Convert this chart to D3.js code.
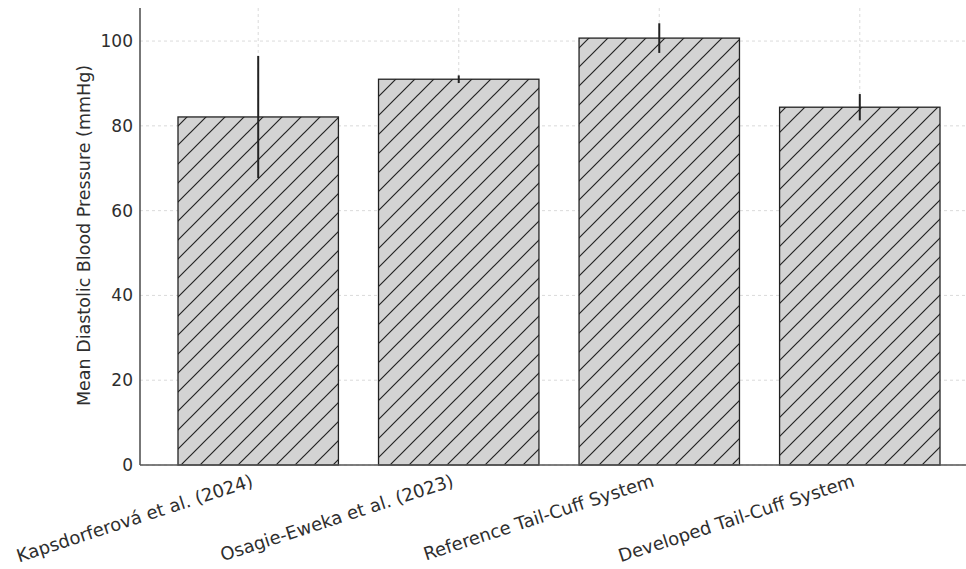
<!DOCTYPE html>
<html><head><meta charset="utf-8">
<script src="https://cdn.jsdelivr.net/npm/d3@7"></script>
<style>body{margin:0;background:#fff}svg{display:block;font-family:"DejaVu Sans",sans-serif}</style>
</head><body><svg id="c" width="966" height="569"></svg>
<script>
const categories = ["Kapsdorferová et al. (2024)", "Osagie-Eweka et al. (2023)", "Reference Tail-Cuff System", "Developed Tail-Cuff System"];
const means = [82.1, 91.0, 100.7, 84.4];
const errors = [14.4, 0.9, 3.5, 3.1];
const yTicks = [0, 20, 40, 60, 80, 100];
const yLabel = "Mean Diastolic Blood Pressure (mmHg)";

const svg = d3.select("#c");
const m = {left: 140, right: 26, top: 8, bottom: 104};
const W = 966, H = 569;
const x = d3.scaleBand().domain(categories).range([m.left + 38, W - m.right]).paddingInner(0.2).paddingOuter(0);
const y = d3.scaleLinear().domain([0, 107.8]).range([H - m.bottom, m.top]);

const S = 19;
const defs = svg.append("defs");
const pat = defs.append("pattern").attr("id", "hatch").attr("patternUnits", "userSpaceOnUse")
  .attr("width", S).attr("height", S);
pat.append("rect").attr("width", S).attr("height", S).attr("fill", "#d3d3d3");
pat.append("path").attr("d", `M${-S/4},${S/4} L${S/4},${-S/4} M0,${S} L${S},0 M${S*0.75},${S*1.25} L${S*1.25},${S*0.75}`)
  .attr("stroke", "#222").attr("stroke-width", 1.2);

// grid
const g = svg.append("g");
g.selectAll(".hg").data(yTicks).join("line")
  .attr("x1", m.left).attr("x2", W).attr("y1", d => y(d)).attr("y2", d => y(d))
  .attr("stroke", "#d0d0d0").attr("stroke-width", 0.8).attr("stroke-dasharray", "3,3");
g.selectAll(".vg").data(categories).join("line")
  .attr("x1", d => x(d) + x.bandwidth() / 2).attr("x2", d => x(d) + x.bandwidth() / 2)
  .attr("y1", m.top).attr("y2", y(0))
  .attr("stroke", "#d0d0d0").attr("stroke-width", 0.8).attr("stroke-dasharray", "3,3");

// bars
svg.append("g").selectAll("rect").data(categories).join("rect")
  .attr("x", d => x(d)).attr("width", x.bandwidth())
  .attr("y", (d, i) => y(means[i])).attr("height", (d, i) => y(0) - y(means[i]))
  .attr("fill", "url(#hatch)").attr("stroke", "#222").attr("stroke-width", 1.3);

// error bars
svg.append("g").selectAll("line").data(categories).join("line")
  .attr("x1", d => x(d) + x.bandwidth() / 2).attr("x2", d => x(d) + x.bandwidth() / 2)
  .attr("y1", (d, i) => y(means[i] + errors[i])).attr("y2", (d, i) => y(means[i] - errors[i]))
  .attr("stroke", "#222").attr("stroke-width", 2);

// y axis
const ya = svg.append("g").attr("transform", `translate(${m.left},0)`)
  .call(d3.axisLeft(y).tickValues(yTicks).tickSize(0).tickPadding(7));
ya.select(".domain").attr("stroke", "#555").attr("stroke-width", 1.6).attr("d", `M0,${y(0)}V${m.top}`);
ya.selectAll("text").attr("font-size", 17).attr("fill", "#2e2e2e").attr("font-family", "DejaVu Sans");

// x axis
const xa = svg.append("g").attr("transform", `translate(0,${y(0)})`)
  .call(d3.axisBottom(x).tickSize(0).tickPadding(0));
xa.select(".domain").attr("stroke", "#555").attr("stroke-width", 1.6).attr("d", `M${m.left},0H${W}`);
xa.selectAll("text").attr("font-size", 18).attr("fill", "#2e2e2e").attr("font-family", "DejaVu Sans")
  .attr("text-anchor", "end").attr("dy", 0)
  .attr("transform", "translate(-4,21) rotate(-18)");

svg.append("text").attr("transform", `translate(90,${(y(0) + m.top) / 2 - 1}) rotate(-90)`)
  .attr("text-anchor", "middle").attr("font-size", 17.5).attr("fill", "#2e2e2e").text(yLabel);
</script></body></html>
